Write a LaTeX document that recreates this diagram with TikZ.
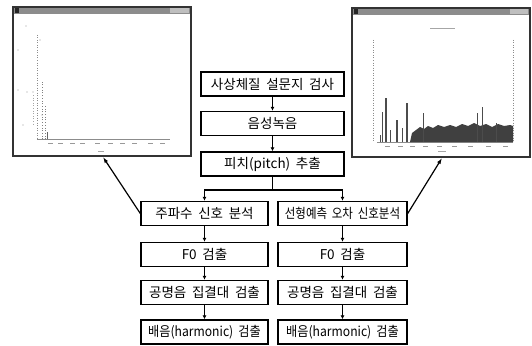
\documentclass[tikz,border=0pt]{standalone}
\usepackage{fontspec}
\usepackage{graphicx}
\newfontfamily\kr{Noto Sans CJK KR}
\newcommand\myboxfont{\kr\fontsize{13.5}{15}\selectfont\spaceskip=0.42em\relax}
\usetikzlibrary{arrows.meta}
\begin{document}
\begin{tikzpicture}[x=1pt,y=-1pt,
  boxc/.style={draw=black,line width=1.4pt,fill=white,minimum width=143pt,minimum height=24pt,inner sep=0pt,font=\myboxfont},
  boxl/.style={boxc,minimum width=127pt},
  boxr/.style={boxc,minimum width=129pt},
  flow/.style={line width=1.3pt,-{Latex[length=4pt,width=4pt]}},
  lnk/.style={line width=1.2pt,-{Latex[length=6pt,width=4pt]}},
  win/.style={draw=black!80,line width=1.2pt,fill=white},
  bar/.style={fill=black!45,draw=none},
  plot/.style={black!45,line width=0.5pt}]
\useasboundingbox (0,0) rectangle (532,345);
% ---------- left window ----------
\draw[win] (13,7) rectangle (191,156);
\fill[bar] (14,7.6) rectangle (190,14.5);
\fill[black!85] (15,8.5) rectangle (19,13.5);
\fill[black!25] (170,8.5) rectangle (189,13.5);
\draw[plot] (37,139) -- (170,139);
\draw[plot,dotted] (37,35) -- (37,139);
\draw[black!50,line width=0.7pt,dotted] (42,139) -- (42,80);
\draw[black!50,line width=0.7pt,dotted] (45,139) -- (45,105);
\draw[black!60,line width=0.7pt] (47,139) -- (47,132);
\draw[black!35,line width=0.6pt,dotted] (33,95) -- (33,125);
\foreach \x in {48,58,70,80,95,108,120,132,148,160}
  \draw[black!40,line width=0.5pt] (\x,143) -- (\x+5,143);
\draw[black!35,line width=0.5pt] (98,151) -- (104,151);
\foreach \x/\y in {40,18/50,18/90,27/92,33/92,42/115,23/125,26}
  \fill[black!40] (\x,\y) circle (0.6pt);
% ---------- right window ----------
\draw[win] (352,8) rectangle (530,157);
\fill[bar] (353,8.6) rectangle (529,15.5);
\fill[black!85] (354,9.5) rectangle (358,14.5);
\fill[black!25] (510,9.5) rectangle (528,14.5);
\draw[plot] (377,142) -- (513,142);
\draw[plot,dotted] (373,40) -- (373,142);
\draw[plot,dotted] (513,40) -- (513,142);
\draw[black!35,line width=0.5pt] (430,28) -- (455,28);
\fill[black!75] (410,142) -- (412,133) -- (416,130) -- (420,127) -- (424,129) -- (428,126)
  -- (433,128) -- (438,125) -- (444,127) -- (450,125) -- (456,127) -- (462,124)
  -- (468,126) -- (474,123) -- (480,126) -- (486,124) -- (492,127) -- (498,124)
  -- (504,126) -- (510,125) -- (513,126) -- (513,142) -- cycle;
\foreach \x/\y/\w in {382/112/0.9,386/98/1.3,397/120/1.1,407/103/1.3,423/113/1.0,
                      477/113/1.0,482/107/1.0,496/123/0.9,380/135/0.6,390/130/0.6,402/128/0.7}
  \draw[black!70,line width=\w pt] (\x,142) -- (\x,\y);
\foreach \x in {385,398,410,423,437,452,468,486,503}
  \draw[black!40,line width=0.5pt] (\x,146) -- (\x+5,146);
\draw[black!35,line width=0.5pt] (438,151) -- (446,151);
% ---------- flow chart ----------
\node[boxc] (b1) at (272.5,84) {사상체질 설문지 검사};
\node[boxc] (b2) at (272.5,123.5) {음성녹음};
\node[boxc] (b3) at (272.5,164) {피치(pitch) 추출};
\node[boxl] (l1) at (204.5,213.5) {주파수 신호 분석};
\node[boxl] (l2) at (204.5,254.5) {F0 검출};
\node[boxl] (l3) at (204.5,292.5) {공명음 집결대 검출};
\node[boxl] (l4) at (204.5,332) {\scalebox{0.9}[1]{배음(harmonic) 검출}};
\node[boxr] (r1) at (342.5,213.5) {\scalebox{0.85}[1]{선형예측 오차 신호분석}};
\node[boxr] (r2) at (342.5,254.5) {F0 검출};
\node[boxr] (r3) at (342.5,292.5) {공명음 집결대 검출};
\node[boxr] (r4) at (342.5,332) {\scalebox{0.9}[1]{배음(harmonic) 검출}};
\coordinate (br) at (272.5,190);
\draw[flow] (b1) -- (b2);
\draw[flow] (b2) -- (b3);
\draw[line width=1.3pt] (b3) -- (br);
\draw[flow] (br) -| (l1);
\draw[flow] (br) -| (r1);
\draw[flow] (l1) -- (l2);
\draw[flow] (l2) -- (l3);
\draw[flow] (l3) -- (l4);
\draw[flow] (r1) -- (r2);
\draw[flow] (r2) -- (r3);
\draw[flow] (r3) -- (r4);
\coordinate (lw) at (103,157);
\coordinate (rw) at (442,158);
\draw[lnk] (l1.west) -- (lw);
\draw[lnk] (r1.east) -- (rw);
\end{tikzpicture}
\end{document}
